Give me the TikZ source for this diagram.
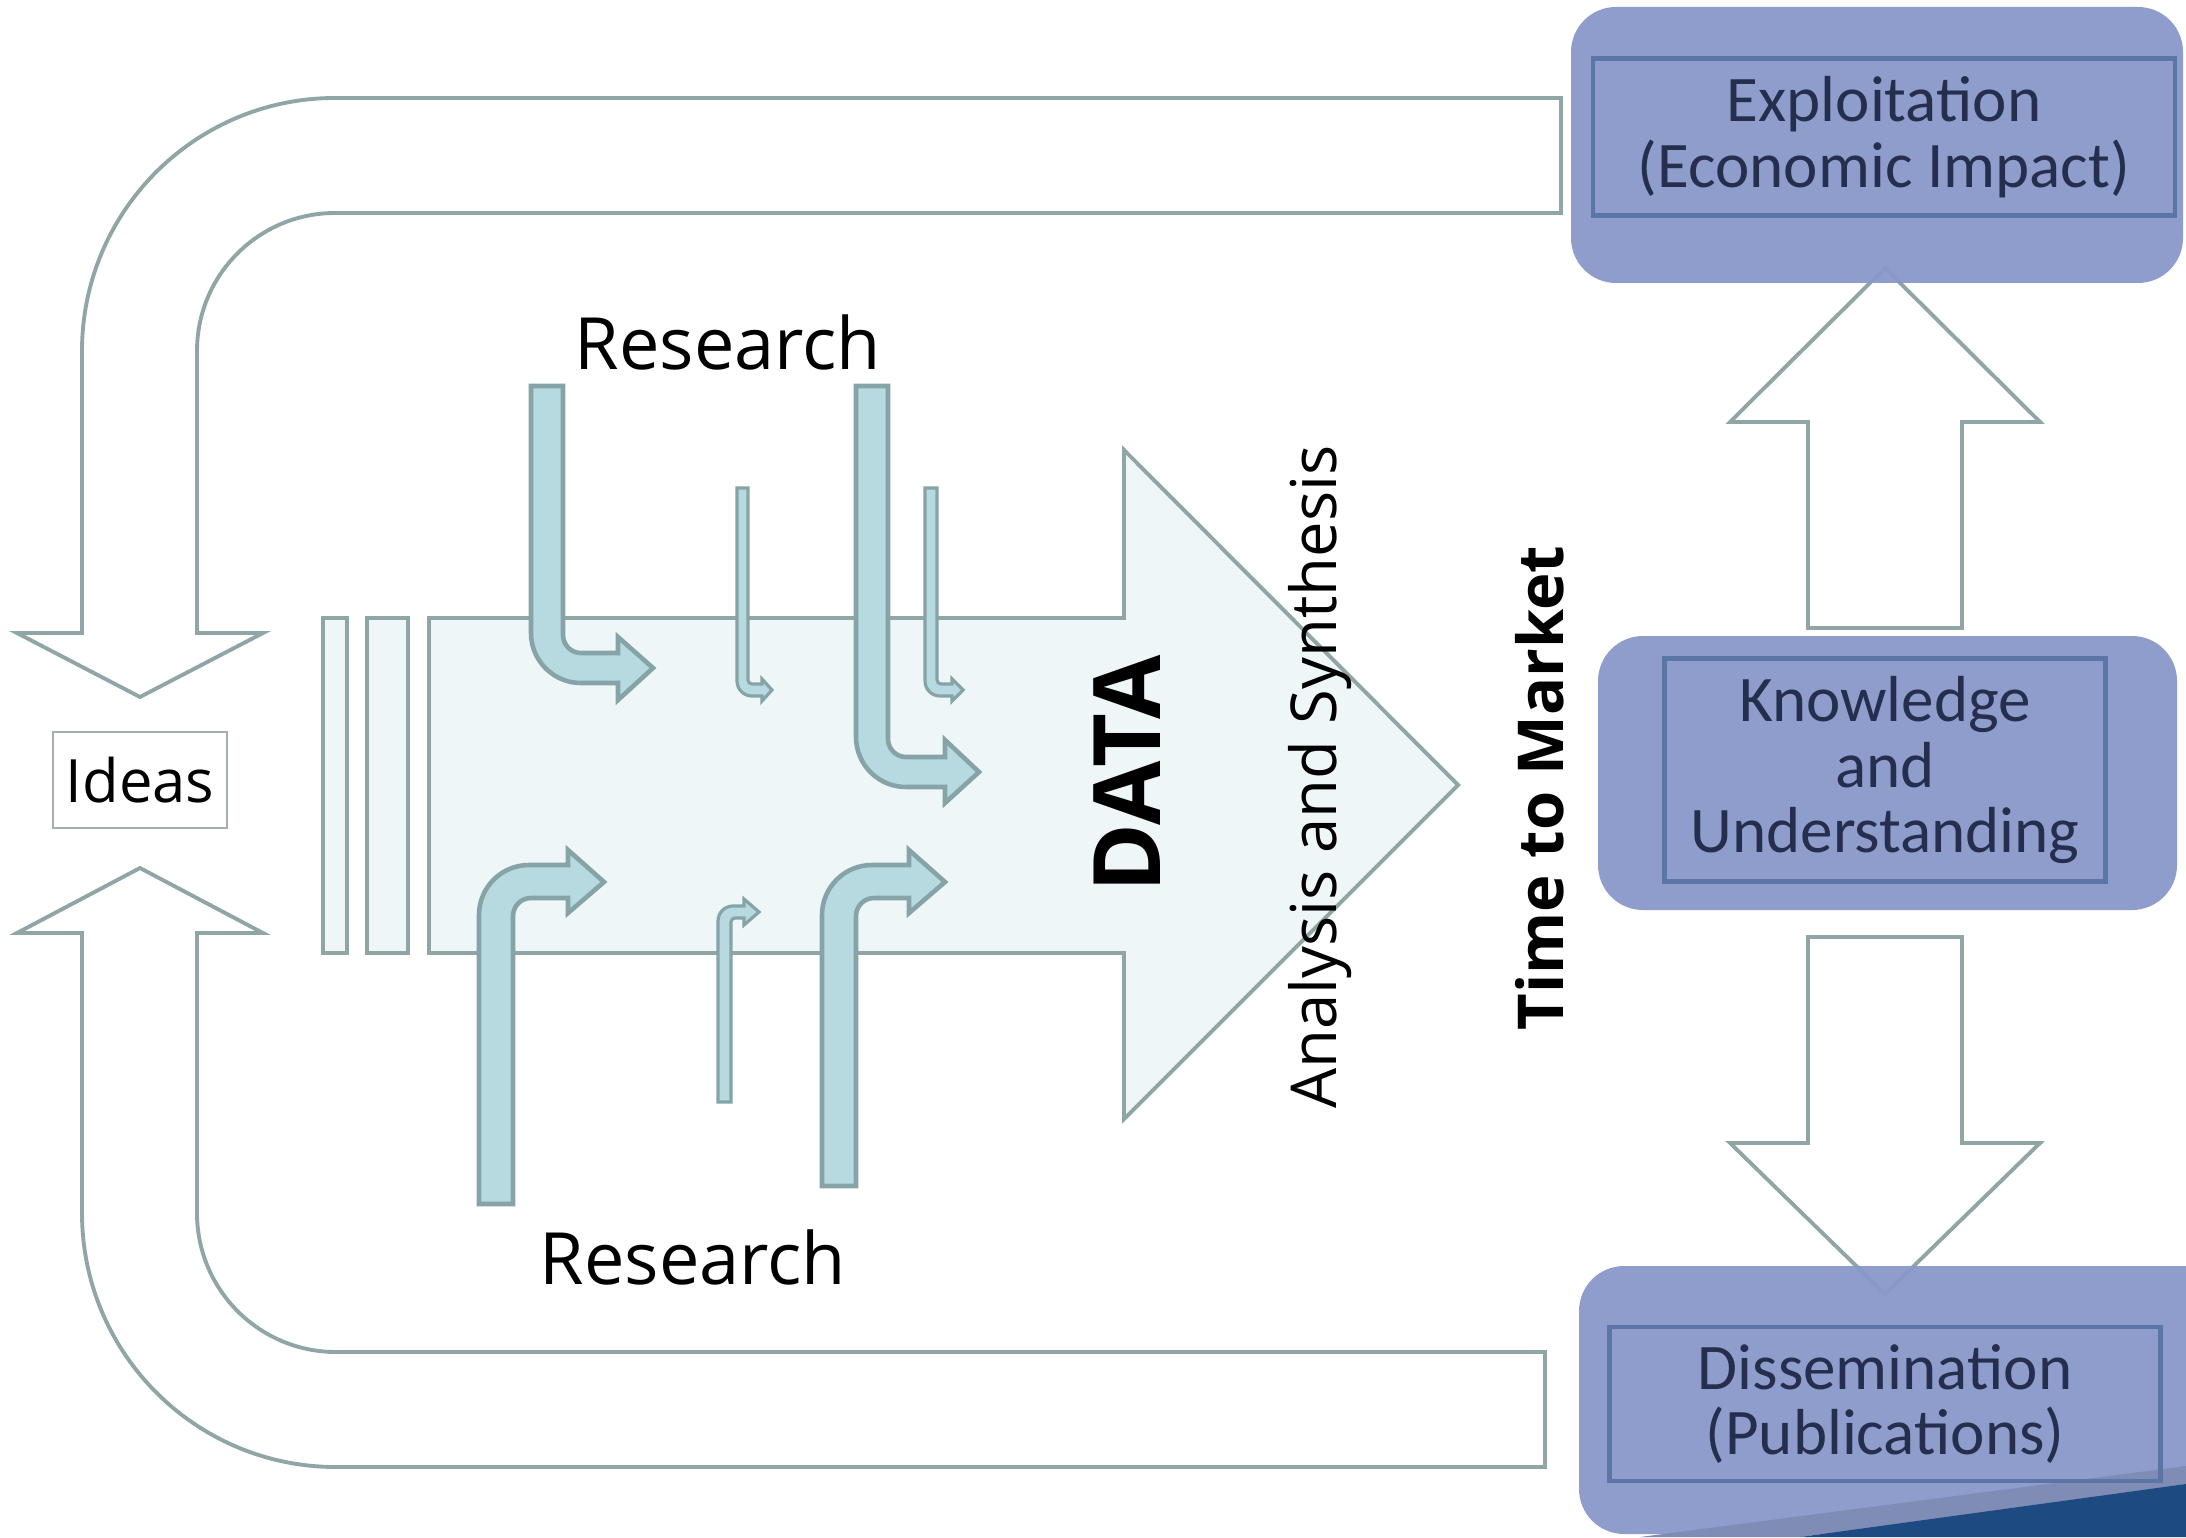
\documentclass[tikz,border=0pt]{standalone}
\usepackage{fontspec}
\setmainfont{Open Sans}
\newfontfamily\boxfont{Carlito}

\definecolor{tealline}{HTML}{8FA5A6}
\definecolor{datafill}{HTML}{EEF6F7}
\definecolor{resfill}{HTML}{B6DADF}
\definecolor{resline}{HTML}{86A3A7}
\definecolor{boxblue}{HTML}{8A98CB}
\definecolor{boxline}{HTML}{5B76A6}
\definecolor{boxtext}{HTML}{252F4D}
\definecolor{ideasline}{HTML}{A5ADAD}
\definecolor{navy}{HTML}{1E4A82}
\definecolor{midblue}{HTML}{7F8CB6}

\begin{document}
\begin{tikzpicture}[x=0.01cm, y=-0.01cm,
		looparrow/.style={draw=tealline, line width=1.1pt, fill=white},
		dataarrow/.style={draw=tealline, line width=1.1pt, fill=datafill},
		resarrow/.style={draw=resline, line width=1.3pt, fill=resfill},
		smallres/.style={draw=resline, line width=0.9pt, fill=resfill},
		outerbox/.style={fill=boxblue, fill opacity=0.95, rounded corners=0.45cm},
		innerbox/.style={draw=boxline, line width=1.3pt, text=boxtext, align=center, inner sep=0pt,
			font=\boxfont\fontsize{18.5}{18.6}\selectfont}]
	\useasboundingbox (0,0) rectangle (2186,1537);
	\fill[white] (0,0) rectangle (2186,1537);

	% top loop arrow (back to ideas)
	\draw[looparrow] (1561,98) -- (335,98) arc[start angle=270, end angle=180, radius=253]
		-- (82,633) -- (17,633) -- (140,697) -- (263,633) -- (197,633)
		-- (197,351) arc[start angle=180, end angle=270, radius=138] -- (1561,213) -- cycle;

	% bottom loop arrow
	\draw[looparrow] (1545,1467) -- (336,1467) arc[start angle=90, end angle=180, radius=254]
		-- (82,933) -- (17,933) -- (140,868) -- (263,933) -- (197,933)
		-- (197,1213) arc[start angle=180, end angle=90, radius=139] -- (1545,1352) -- cycle;

	% ideas
	\node[draw=ideasline, line width=0.6pt, minimum width=1.74cm, minimum height=0.96cm,
		inner sep=0pt, font=\fontsize{17}{20}\selectfont] (ideas) at (140,780) {Ideas};

	% data arrow with strips
	\draw[dataarrow] (323,618) rectangle (347,953);
	\draw[dataarrow] (367,618) rectangle (408,953);
	\draw[dataarrow] (429,618) -- (1124,618) -- (1124,450) -- (1458,785)
		-- (1124,1119) -- (1124,953) -- (429,953) -- cycle;

	% research arrows from above
	\draw[resarrow] (531,386) -- (531,633) arc[start angle=180, end angle=90, radius=50]
		-- (618,683) -- (618,700) -- (653,668) -- (618,637) -- (618,653)
		-- (581,653) arc[start angle=90, end angle=180, radius=18] -- (563,386) -- cycle;
	\draw[resarrow] (856,386) -- (856,737) arc[start angle=180, end angle=90, radius=50]
		-- (945,787) -- (945,803) -- (979,772) -- (945,740) -- (945,757)
		-- (906,757) arc[start angle=90, end angle=180, radius=18] -- (888,386) -- cycle;
	\draw[smallres] (737,488) -- (737,681) arc[start angle=180, end angle=90, radius=15]
		-- (762,696) -- (762,701) -- (772,690) -- (762,679) -- (762,684)
		-- (752,684) arc[start angle=90, end angle=180, radius=4] -- (748,488) -- cycle;
	\draw[smallres] (925,488) -- (925,681) arc[start angle=180, end angle=90, radius=15]
		-- (952,696) -- (952,701) -- (963,690) -- (952,679) -- (952,684)
		-- (941,684) arc[start angle=90, end angle=180, radius=4] -- (937,488) -- cycle;

	% research arrows from below
	\draw[resarrow] (479,1204) -- (479,915) arc[start angle=180, end angle=270, radius=50]
		-- (568,865) -- (568,850) -- (604,882) -- (568,913) -- (568,898)
		-- (531,898) arc[start angle=270, end angle=180, radius=18] -- (513,1204) -- cycle;
	\draw[resarrow] (822,1186) -- (822,915) arc[start angle=180, end angle=270, radius=50]
		-- (909,865) -- (909,850) -- (945,882) -- (909,913) -- (909,898)
		-- (874,898) arc[start angle=270, end angle=180, radius=18] -- (856,1186) -- cycle;
	\draw[smallres] (718,1102) -- (718,921) arc[start angle=180, end angle=270, radius=15]
		-- (744,906) -- (744,899) -- (759,912) -- (744,925) -- (744,918)
		-- (735,918) arc[start angle=270, end angle=180, radius=4] -- (731,1102) -- cycle;

	% labels
	\node[font=\fontsize{20.5}{24}\selectfont] (restop) at (728,342) {Research};
	\node[font=\fontsize{20.5}{24}\selectfont] (resbot) at (693,1257) {Research};
	\node[rotate=90, font=\bfseries\fontsize{26.5}{30}\selectfont] (data) at (1127,774) {DATA};
	\node[rotate=90, font=\fontsize{18}{22}\selectfont] (analysis) at (1320,777) {Analysis and Synthesis};
	\node[rotate=90, font=\bfseries\fontsize{18}{22}\selectfont] (market) at (1540,788) {Time to Market};

	% up and down arrows
	\draw[looparrow] (1808,628) -- (1808,422) -- (1730,422) -- (1885,268)
		-- (2040,422) -- (1962,422) -- (1962,628) -- cycle;
	\draw[looparrow] (1808,937) -- (1808,1143) -- (1730,1143) -- (1885,1294)
		-- (2040,1143) -- (1962,1143) -- (1962,937) -- cycle;

	% exploitation
	\fill[outerbox] (1571,7) rectangle (2183,283);
	\node[innerbox, minimum width=5.82cm, minimum height=1.57cm] (exploit) at (1884,137)
		{Exploitation\\(Economic Impact)};

	% knowledge
	\fill[outerbox] (1598,636) rectangle (2177,910);
	\node[innerbox, minimum width=4.41cm, minimum height=2.23cm] (knowledge) at (1885,770)
		{Knowledge\\and\\Understanding};

	% dissemination
	\fill[outerbox] (1579,1266) rectangle (2240,1534);
	\fill[midblue] (1640,1537) -- (2186,1466) -- (2186,1484) -- (1800,1537) -- cycle;
	\fill[navy] (1800,1537) -- (2186,1484) -- (2186,1537) -- cycle;
	\node[innerbox, minimum width=5.51cm, minimum height=1.54cm] (dissem) at (1885,1404)
		{Dissemination\\(Publications)};
\end{tikzpicture}
\end{document}
